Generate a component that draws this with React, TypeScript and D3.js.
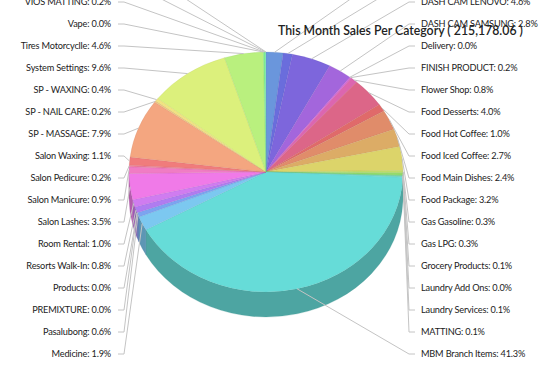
import React from 'react'
import * as d3 from 'd3'

// categories in the order the pie draws them (clockwise from 12 o'clock)
const categories = [
  'Car Accessories', 'Car Wash',
  'DASH CAM LENOVO', 'DASH CAM SAMSUNG', 'Delivery', 'FINISH PRODUCT', 'Flower Shop',
  'Food Desserts', 'Food Hot Coffee', 'Food Iced Coffee', 'Food Main Dishes', 'Food Package',
  'Gas Gasoline', 'Gas LPG', 'Grocery Products', 'Laundry Add Ons', 'Laundry Services',
  'MATTING', 'MBM Branch Items',
  'Medicine', 'Pasalubong', 'PREMIXTURE', 'Products', 'Resorts Walk-In', 'Room Rental',
  'Salon Lashes', 'Salon Manicure', 'Salon Pedicure', 'Salon Waxing', 'SP - MASSAGE',
  'SP - NAIL CARE', 'SP - WAXING', 'System Settings', 'Tires Motorcyclle', 'Vape',
  'VIOS MATTING', 'Water Refill', 'Wheel Alignment'
]

// share of sales, %
const shares = [
  2.0, 1.1,
  4.6, 2.8, 0.0, 0.2, 0.8,
  4.0, 1.0, 2.7, 2.4, 3.2,
  0.3, 0.3, 0.1, 0.0, 0.1,
  0.1, 41.3,
  1.9, 0.6, 0.0, 0.0, 0.8, 1.0,
  3.5, 0.9, 0.2, 1.1, 7.9,
  0.2, 0.4, 9.6, 4.6, 0.0,
  0.2, 0.1, 0.0
]

const sliceColors = [
  '#6a96dc', '#6a6ddc',
  '#7d66dc', '#a366dc', '#c466dc', '#d466d8', '#dc66b0',
  '#dc6688', '#e06a6a', '#e08c6a', '#dcac66', '#dcd46a',
  '#c0dc6a', '#96dc6a', '#74dc6a', '#6adc86', '#6adcac',
  '#6adcc8', '#66dcd8',
  '#7cc8f0', '#7ca4f0', '#7c80f0', '#907cf0', '#b07cf0', '#d07cf0',
  '#f07ae8', '#f07cc4', '#f07ca0', '#f07c7c', '#f4a680',
  '#f0c880', '#f0e480', '#dcf07c', '#b9f07e', '#9cf07c',
  '#80f090', '#7cf0b4', '#7cf0d8'
]

const title = 'This Month Sales Per Category ( 215,178.06 )'

const W = 546
const H = 367
const cx = 266
const cy = 172
const rx = 137
const ry = 120
const depth = 25
const rowGap = 22
const bottomRow = 354

const pt = (a: number, dy = 0): [number, number] => [cx + rx * Math.sin(a), cy - ry * Math.cos(a) + dy]

function topPath(a0: number, a1: number) {
  const [x0, y0] = pt(a0)
  const [x1, y1] = pt(a1)
  const large = a1 - a0 > Math.PI ? 1 : 0
  return `M${cx},${cy}L${x0},${y0}A${rx},${ry} 0 ${large} 1 ${x1},${y1}Z`
}

function sidePath(a0: number, a1: number) {
  const s = Math.max(a0, Math.PI / 2)
  const e = Math.min(a1, Math.PI * 1.5)
  if (e - s < 1e-6) return null
  const [x0, y0] = pt(s)
  const [x1, y1] = pt(e)
  const large = e - s > Math.PI ? 1 : 0
  return `M${x0},${y0}A${rx},${ry} 0 ${large} 1 ${x1},${y1}L${x1},${y1 + depth}` +
    `A${rx},${ry} 0 ${large} 0 ${x0},${y0 + depth}Z`
}

export default function App() {
  const data = categories.map((name, i) => ({ name, value: shares[i], color: sliceColors[i] }))
  const arcs = d3.pie<any>().sort(null).value(d => d.value).startAngle(0).endAngle(Math.PI * 2)(data)

  const right = arcs.filter(a => (a.startAngle + a.endAngle) / 2 < Math.PI)
  const left = arcs.filter(a => (a.startAngle + a.endAngle) / 2 >= Math.PI)

  const labels = [
    ...right.map((a, i) => ({ a, side: 1, y: bottomRow - rowGap * (right.length - 1 - i) })),
    ...left.map((a, i) => ({ a, side: -1, y: bottomRow - rowGap * i }))
  ]

  const font = 'Lato, "Segoe UI", sans-serif'

  return (
    <svg width={W} height={H} style={{ position: 'absolute', left: 0, top: 0, background: '#fff' }}>
      <g className="sides">
        {arcs.map((a, i) => {
          const p = sidePath(a.startAngle, a.endAngle)
          if (!p) return null
          const c = d3.color(a.data.color)!.darker(0.8)
          return <path key={i} d={p} fill={c.toString()} stroke={c.darker(0.3).toString()} strokeOpacity={0.4} strokeWidth={0.5} />
        })}
      </g>
      <g className="tops">
        {arcs.map((a, i) => {
          if (a.endAngle - a.startAngle < 1e-6) return null
          return <path key={i} d={topPath(a.startAngle, a.endAngle)} fill={a.data.color}
            stroke={d3.color(a.data.color)!.darker(0.6).toString()} strokeOpacity={0.35} strokeWidth={0.5} />
        })}
      </g>
      <g className="labels" fontFamily={font} fontSize={9.2} letterSpacing={-0.18} fill="#222">
        {labels.map(({ a, side, y }, i) => {
          const [ax, ay] = pt((a.startAngle + a.endAngle) / 2)
          const x0 = side > 0 ? 409 : 124
          const x1 = side > 0 ? 415 : 118
          const tx = side > 0 ? 421 : 111
          return (
            <g key={i}>
              <path d={`M${ax},${ay}L${x0},${y}L${x1},${y}`} fill="none" stroke="#c4c4c4" strokeWidth={1} />
              <text x={tx} y={y} dy="0.35em" textAnchor={side > 0 ? 'start' : 'end'}>
                {`${a.data.name}: ${a.data.value.toFixed(1)}%`}
              </text>
            </g>
          )
        })}
      </g>
      <text x={278} y={31} dy="0.35em" fontFamily={font} fontSize={12.3} fontWeight={600} fill="#222">{title}</text>
    </svg>
  )
}
